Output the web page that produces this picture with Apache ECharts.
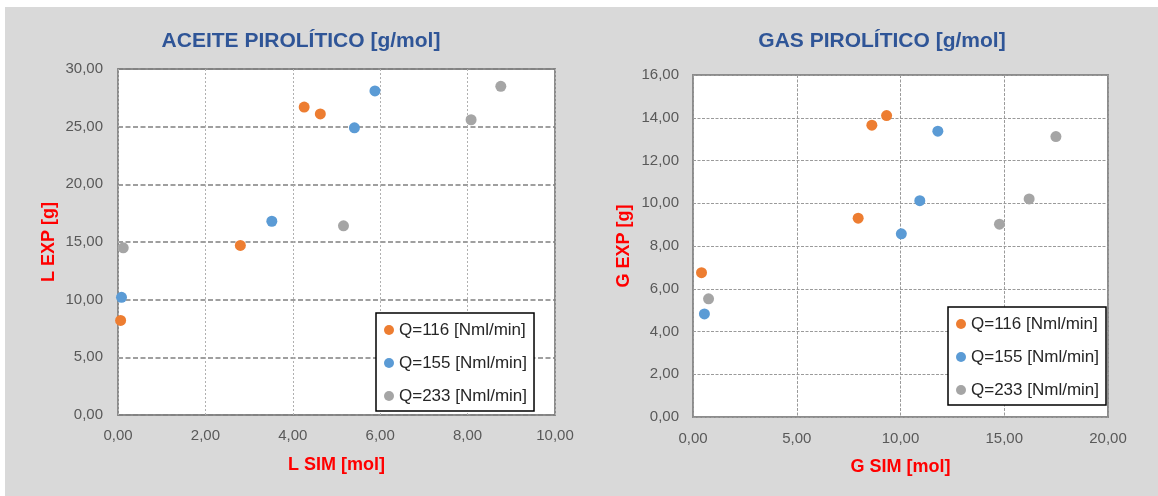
<!DOCTYPE html>
<html>
<head>
<meta charset="utf-8">
<script src="https://cdn.jsdelivr.net/npm/echarts@6/dist/echarts.min.js"></script>
<style>
  html, body { margin: 0; padding: 0; background: #ffffff; }
  #panel { position: absolute; left: 5px; top: 7px; width: 1153px; height: 489px; background: #d9d9d9; }
  #chart { position: absolute; left: 0; top: 0; width: 1158px; height: 496px; }
</style>
</head>
<body>
<div id="panel"></div>
<div id="chart"></div>
<script>
// Series labels (flow rates)
const seriesNames = ['Q=116 [Nml/min]', 'Q=155 [Nml/min]', 'Q=233 [Nml/min]'];
const seriesColors = ['#ED7D31', '#5B9BD5', '#A5A5A5'];

// Pyrolytic oil: [L SIM (mol), L EXP (g)]
const oilQ116 = [[0.06, 8.2], [2.80, 14.7], [4.26, 26.7], [4.63, 26.1]];
const oilQ155 = [[0.08, 10.2], [3.52, 16.8], [5.41, 24.9], [5.88, 28.1]];
const oilQ233 = [[0.12, 14.5], [5.16, 16.4], [8.08, 25.6], [8.76, 28.5]];

// Pyrolytic gas: [G SIM (mol), G EXP (g)]
const gasQ116 = [[0.41, 6.75], [7.96, 9.30], [8.62, 13.65], [9.33, 14.10]];
const gasQ155 = [[0.55, 4.82], [10.04, 8.57], [10.93, 10.12], [11.80, 13.37]];
const gasQ233 = [[0.75, 5.53], [14.77, 9.02], [16.20, 10.20], [17.49, 13.12]];

const chart = echarts.init(document.getElementById('chart'), null, { renderer: 'canvas' });

const fmt = v => v.toFixed(2).replace('.', ',');
const font = 'Liberation Sans, Arial, sans-serif';
const tickLabel = { color: '#595959', fontSize: 15, fontFamily: font, formatter: fmt };
const axisName = { color: '#FF0000', fontSize: 18, fontWeight: 'bold', fontFamily: font };

function scatter(name, data, idx, color) {
  return {
    type: 'scatter', name, data,
    xAxisIndex: idx, yAxisIndex: idx,
    symbol: 'circle', symbolSize: 11,
    itemStyle: { color, opacity: 1 },
    emphasis: { disabled: true }
  };
}

function legend(left, top) {
  return {
    data: seriesNames,
    orient: 'vertical',
    left, top,
    icon: 'circle',
    itemWidth: 10, itemHeight: 10,
    itemGap: 13,
    padding: [7, 7, 5, 8],
    backgroundColor: '#ffffff',
    borderColor: '#000000',
    borderWidth: 1.5,
    selectedMode: false,
    textStyle: { color: '#262626', fontSize: 17, fontFamily: font, lineHeight: 20 }
  };
}

const option = {
  animation: false,
  color: seriesColors,
  title: [
    { text: 'ACEITE PIROLÍTICO [g/mol]', left: 296, top: 26, textAlign: 'center',
      textStyle: { color: '#2F5597', fontSize: 21, fontWeight: 'bold', fontFamily: font } },
    { text: 'GAS PIROLÍTICO [g/mol]', left: 877, top: 26, textAlign: 'center',
      textStyle: { color: '#2F5597', fontSize: 21, fontWeight: 'bold', fontFamily: font } }
  ],
  legend: [legend(376, 313), legend(948, 307)],
  grid: [
    { left: 118, right: 603, top: 69, bottom: 81, show: true, backgroundColor: '#ffffff',
      borderColor: '#8c8c8c', borderWidth: 2 },
    { left: 693, right: 50, top: 75, bottom: 79, show: true, backgroundColor: '#ffffff',
      borderColor: '#8c8c8c', borderWidth: 2 }
  ],
  xAxis: [
    { type: 'value', gridIndex: 0, min: 0, max: 10, interval: 2,
      name: 'L SIM [mol]', nameLocation: 'middle', nameGap: 41, nameTextStyle: axisName,
      axisLine: { show: false }, axisTick: { show: false },
      axisLabel: Object.assign({ margin: 13 }, tickLabel),
      splitLine: { lineStyle: { color: '#b0b0b0', width: 1, type: [2, 2] } } },
    { type: 'value', gridIndex: 1, min: 0, max: 20, interval: 5,
      name: 'G SIM [mol]', nameLocation: 'middle', nameGap: 41, nameTextStyle: axisName,
      axisLine: { show: false }, axisTick: { show: false },
      axisLabel: Object.assign({ margin: 14 }, tickLabel),
      splitLine: { lineStyle: { color: '#9a9a9a', width: 1, type: [3, 1.5] } } }
  ],
  yAxis: [
    { type: 'value', gridIndex: 0, min: 0, max: 30, interval: 5,
      name: 'L EXP [g]', nameLocation: 'middle', nameGap: 60, nameTextStyle: axisName,
      axisLine: { show: false }, axisTick: { show: false },
      axisLabel: Object.assign({ margin: 15 }, tickLabel),
      splitLine: { lineStyle: { color: '#808080', width: 1.5, type: [5, 2.5] } } },
    { type: 'value', gridIndex: 1, min: 0, max: 16, interval: 2,
      name: 'G EXP [g]', nameLocation: 'middle', nameGap: 60, nameTextStyle: axisName,
      axisLine: { show: false }, axisTick: { show: false },
      axisLabel: Object.assign({ margin: 14 }, tickLabel),
      splitLine: { lineStyle: { color: '#9a9a9a', width: 1, type: [3, 1.5] } } }
  ],
  series: [
    scatter(seriesNames[0], oilQ116, 0, seriesColors[0]),
    scatter(seriesNames[1], oilQ155, 0, seriesColors[1]),
    scatter(seriesNames[2], oilQ233, 0, seriesColors[2]),
    scatter(seriesNames[0], gasQ116, 1, seriesColors[0]),
    scatter(seriesNames[1], gasQ155, 1, seriesColors[1]),
    scatter(seriesNames[2], gasQ233, 1, seriesColors[2])
  ]
};

chart.setOption(option);
</script>
</body>
</html>
